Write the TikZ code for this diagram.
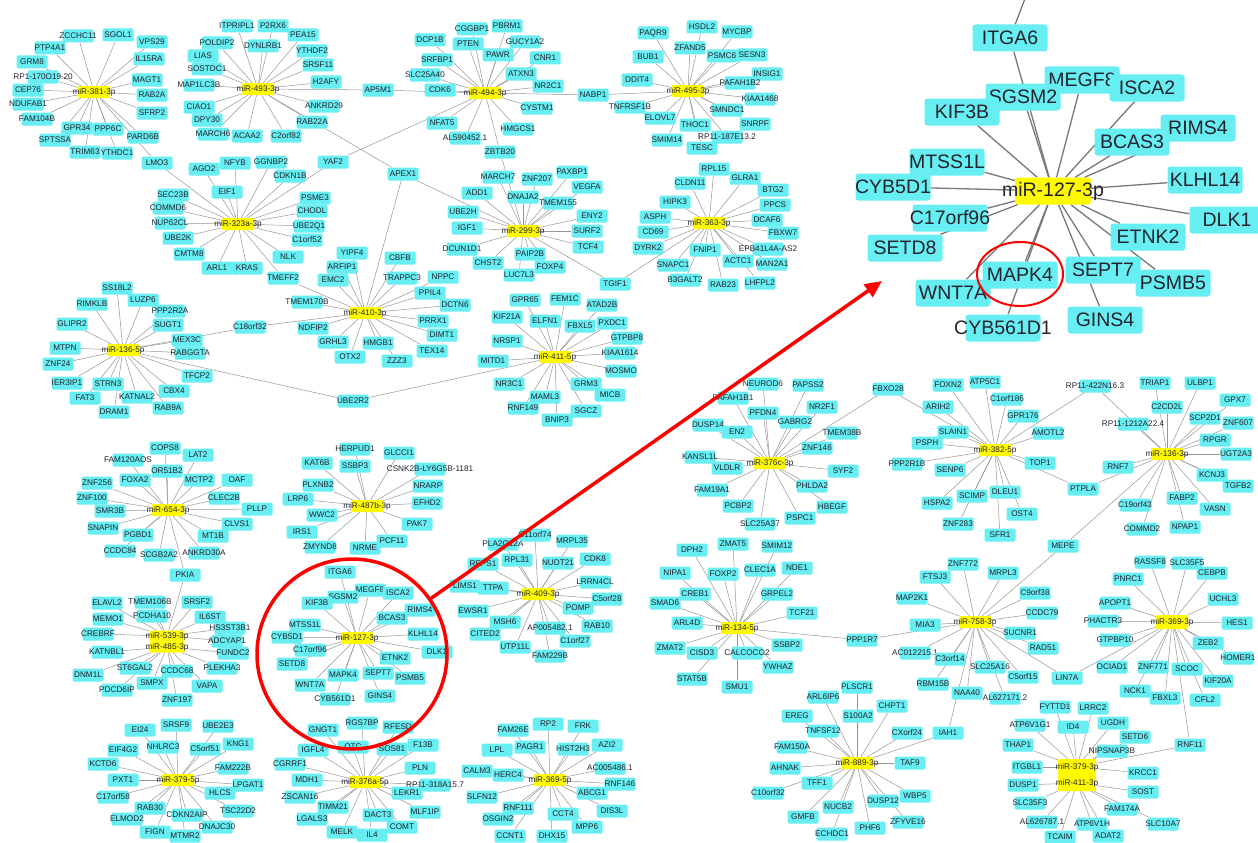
\documentclass[tikz,border=0pt]{standalone}
\usepackage{fontspec}
\setmainfont{Liberation Sans}
\usetikzlibrary{shapes.geometric, arrows.meta, backgrounds}
\definecolor{genecyan}{RGB}{102,238,242}
\definecolor{hubyellow}{RGB}{255,250,0}
\definecolor{linkgray}{RGB}{150,150,150}
\definecolor{labelink}{RGB}{35,35,45}

\newcommand\spokes[2]{%
  \foreach \gname/\gx/\gy [count=\gi] in {#2} {%
    \node[gene=\gname] (#1-\gi) at (\gx,\gy) {};
    \xdef\spokecount{\gi}%
  }%
  \begin{pgfonlayer}{background}
    \foreach \gi in {1,...,\spokecount} \draw[link] (#1) -- (#1-\gi);
  \end{pgfonlayer}}

\begin{document}
\begin{tikzpicture}[
  x=1pt, y=-1pt,
  genetext/.style={font=\fontsize{8.2}{9}\selectfont, text=labelink, inner sep=0pt},
  gene/.style={fill=genecyan, rounded corners=1.5pt, inner sep=0pt,
    minimum width=31pt, minimum height=13pt, label={[genetext]center:#1}},
  hub/.style={gene=#1, fill=hubyellow, rounded corners=1pt,
    minimum width=32pt, minimum height=12pt},
  bigtext/.style={font=\fontsize{19.5}{21}\selectfont, text=labelink, inner sep=0pt},
  bigene/.style={fill=genecyan, rounded corners=3pt, inner sep=0pt,
    minimum width=75pt, minimum height=27pt, label={[bigtext]center:#1}},
  bighub/.style={bigene=#1, fill=hubyellow, minimum width=76pt},
  link/.style={draw=linkgray, line width=0.5pt},
  biglink/.style={draw=linkgray!80!black, line width=1.3pt}
]
  \useasboundingbox (0,0) rectangle (1258,843);
  \begin{pgfonlayer}{background}
    \fill[white] (0,0) rectangle (1258,843);
  \end{pgfonlayer}

  % hubs
  \node[hub=miR-381-3p] (h381) at (94,92) {};
  \node[hub=miR-493-3p] (h493) at (258,89) {};
  \node[hub=miR-494-3p] (h494) at (485,93) {};
  \node[hub=miR-495-3p] (h495) at (688,91) {};
  \node[hub=miR-323a-3p] (h323) at (238,224) {};
  \node[hub=miR-299-3p] (h299) at (523,231) {};
  \node[hub=miR-363-3p] (h363) at (709,223) {};
  \node[hub=miR-410-3p] (h410) at (365,313) {};
  \node[hub=miR-411-5p] (h411a) at (555,357) {};
  \node[hub=miR-136-5p] (h136a) at (123,350) {};
  \node[hub=miR-654-3p] (h654) at (168,510) {};
  \node[hub=miR-539-3p, minimum width=35pt, minimum height=11pt] (h539) at (167,636) {};
  \node[hub=miR-485-3p, minimum width=35pt, minimum height=11pt] (h485) at (167,647) {};
  \node[hub=miR-379-5p] (h379a) at (178,780) {};
  \node[hub=miR-487b-3p] (h487) at (367,506) {};
  \node[hub=miR-127-3p] (h127) at (357,638) {};
  \node[hub=miR-376a-5p] (h376a) at (365,782) {};
  \node[hub=miR-409-3p] (h409) at (538,594) {};
  \node[hub=miR-369-5p] (h369a) at (550,780) {};
  \node[hub=miR-376c-3p] (h376c) at (770,463) {};
  \node[hub=miR-382-5p] (h382) at (995,450) {};
  \node[hub=miR-136-3p] (h136b) at (1167,454) {};
  \node[hub=miR-134-5p] (h134) at (737,628) {};
  \node[hub=miR-758-3p] (h758) at (975,622) {};
  \node[hub=miR-369-3p, minimum height=14pt] (h369b) at (1172,622) {};
  \node[hub=miR-379-3p, minimum width=38pt, minimum height=16pt] (h379b) at (1077,767) {};
  \node[hub=miR-411-3p, minimum width=38pt, minimum height=16pt] (h411b) at (1077,783) {};
  \node[hub=miR-889-3p] (h889) at (857,763) {};

  % genes shared by two hubs
  \node[gene=LMO3] (lmo3) at (157,163) {};
  \node[gene=AP5M1] (ap5m1) at (378,90) {};
  \node[gene=APEX1] (apex1) at (403,174) {};
  \node[gene=YAF2] (yaf2) at (333,162) {};
  \node[gene=NABP1] (nabp1) at (593,95) {};
  \node[gene=ZBTB20] (zbtb20) at (500,152) {};
  \node[gene=TGIF1] (tgif1) at (615,284) {};
  \node[gene=TMEFF2] (tmeff2) at (283,278) {};
  \node[gene=C18orf32] (c18orf32) at (250,327) {};
  \node[gene=UBE2R2] (ube2r2) at (353,401) {};
  \node[gene=PKIA] (pkia) at (185,575) {};
  \node[gene=FBXO28] (fbxo28) at (888,389) {};
  \node[gene=RP11-422N16.3] (rp422) at (1095,386) {};
  \node[gene=PTPLA] (ptpla) at (1083,489) {};
  \node[gene=MEPE] (mepe) at (1063,546) {};
  \node[gene=PPP1R7] (ppp1r7) at (862,640) {};
  \node[gene=LIN7A] (lin7a) at (1067,678) {};
  \node[gene=RNF11] (rnf11) at (1190,745) {};
  \node[gene=IAH1] (iah1) at (948,733) {};

  \begin{pgfonlayer}{background}
    \draw[link] (h381) -- (lmo3) -- (h323);
    \draw[link] (h493) -- (ap5m1) -- (h494);
    \draw[link] (h493) -- (apex1) -- (h299);
    \draw[link] (apex1) -- (h410);
    \draw[link] (h323) -- (yaf2) -- (h494);
    \draw[link] (h494) -- (nabp1) -- (h495);
    \draw[link] (h494) -- (zbtb20) -- (h299);
    \draw[link] (h299) -- (tgif1) -- (h363);
    \draw[link] (h323) -- (tmeff2) -- (h410);
    \draw[link] (h136a) -- (c18orf32) -- (h410);
    \draw[link] (h136a) -- (ube2r2) -- (h411a);
    \draw[link] (h654) -- (pkia) -- (h539);
    \draw[link] (h376c) -- (fbxo28) -- (h382);
    \draw[link] (h382) -- (rp422) -- (h136b);
    \draw[link] (h382) -- (ptpla) -- (h136b);
    \draw[link] (h136b) -- (mepe) -- (h758);
    \draw[link] (h134) -- (ppp1r7) -- (h758);
    \draw[link] (h758) -- (lin7a) -- (h369b);
    \draw[link] (h369b) -- (rnf11) -- (h379b);
    \draw[link] (h758) -- (iah1) -- (h889);
  \end{pgfonlayer}

  % targets of each hub
  \spokes{h381}{ZCCHC11/78/36, SGOL1/118/35, VPS29/152/42, PTP4A1/50/48,
    IL15RA/149/59, GRM8/32/62, RP1-170O19.20/43/77, MAGT1/147/80, CEP76/28/90,
    RAB2A/152/95, NDUFAB1/28/104, SFRP2/152/113, FAM104B/37/119, GPR34/77/128,
    PPP6C/108/129, PARD6B/143/137, SPTSSA/55/140, TRIM63/85/152, YTHDC1/117/153}
  \spokes{h493}{ITPRIPL1/237/26, P2RX6/273/26, PEA15/303/35, POLDIP2/217/43,
    DYNLRB1/263/46, YTHDF2/312/51, LIAS/203/56, SRSF11/318/65, SOSTDC1/207/69,
    H2AFY/326/82, MAP1LC3B/199/85, ANKRD29/324/106, CIAO1/199/107, DPY30/207/120,
    RAB22A/312/122, MARCH6/213/134, ACAA2/247/136, C2orf82/286/136}
  \spokes{h494}{CGGBP1/472/29, PBRM1/507/26, DCP1B/430/40, PTEN/468/44,
    GUCY1A2/525/42, PAWR/498/55, CNR1/545/58, SRFBP1/437/60, ATXN3/521/74,
    SLC25A40/425/75, NR2C1/548/86, CDK6/440/90, CYSTM1/537/108, NFAT5/442/123,
    HMGCS1/518/129, AL590452.1/465/138}
  \spokes{h495}{HSDL2/702/27, PAQR9/653/33, MYCBP/737/32, ZFAND5/690/48,
    PSMC6/722/56, SESN3/752/55, BUB1/648/57, INSIG1/767/74, PAFAH1B2/740/83,
    DDIT4/637/80, KIAA1468/760/99, TNFRSF1B/630/107, SMNDC1/727/110,
    ELOVL7/660/118, THOC1/695/125, SNRPF/755/124, SMIM14/667/140,
    RP11-187E13.2/727/137, TESC/702/148}
  \spokes{h299}{MARCH7/498/177, ZNF207/537/179, PAXBP1/572/172, VEGFA/587/187,
    ADD1/477/193, DNAJA2/523/197, TMEM155/558/203, UBE2H/463/212, ENY2/592/216,
    IGF1/467/228, SURF2/587/231, TCF4/588/247, DCUN1D1/462/249, PAIP2B/530/254,
    CHST2/488/263, FOXP4/550/267, LUC7L3/519/275}
  \spokes{h363}{RPL15/714/169, CLDN11/690/183, GLRA1/745/178, BTG2/773/190,
    HIPK3/675/202, PPCS/775/205, ASPH/655/217, DCAF6/767/220, CD69/653/232,
    FBXW7/783/233, DYRK2/648/248, FNIP1/705/250, EPB41L4A-AS2/768/249,
    ACTC1/738/261, MAN2A1/772/264, SNAPC1/673/265, B3GALT2/685/280,
    RAB23/723/285, LHFPL2/760/283}
  \spokes{h323}{AGO2/204/169, NFYB/235/163, GGNBP2/271/162, CDKN1B/290/176,
    EIF1/227/192, SEC23B/173/195, PSME3/315/198, COMMD6/168/208, CHODL/312/211,
    NUP62CL/170/223, UBE2Q1/309/226, UBE2K/178/238, C1orf52/307/240,
    CMTM8/189/254, NLK/288/257, ARL1/217/268, KRAS/247/268}
  \spokes{h410}{YIPF4/352/253, CBFB/400/258, ARFIP1/342/267, EMC2/333/280,
    TRAPPC3/402/278, NPPC/443/277, PPIL4/430/293, TMEM170B/307/302,
    DCTN6/455/305, NDFIP2/313/328, PRRX1/433/321, GRHL3/333/342, DIMT1/442/335,
    HMGB1/378/343, TEX14/432/351, OTX2/350/357, ZZZ3/397/361}
  \spokes{h411a}{GPR65/525/300, FEM1C/565/299, ATAD2B/602/305, KIF21A/507/317,
    ELFN1/545/321, FBXL5/580/326, PXDC1/612/323, NRSP1/507/341, GTPBP8/627/338,
    KIAA1614/620/353, MITD1/493/361, MOSMO/621/371, NR3C1/509/384, GRM3/586/384,
    MICB/610/395, MAML3/545/397, RNF149/523/408, SGCZ/586/411, BNIP3/557/420}
  \spokes{h136a}{SS18L2/117/288, RIMKLB/92/304, LUZP6/143/300, PPP2R2A/170/311,
    GLIPR2/72/324, SUGT1/168/325, MEX3C/187/340, MTPN/65/348, RABGGTA/190/353,
    ZNF24/58/364, TFCP2/197/376, IER3IP1/67/383, STRN3/108/384, CBX4/174/391,
    FAT3/85/398, KATNAL2/137/397, RAB9A/168/408, DRAM1/114/412}
  \spokes{h654}{COPS8/165/448, LAT2/198/455, FAM120AOS/128/460, OR51B2/167/471,
    FOXA2/135/480, MCTP2/199/480, OAF/237/480, ZNF256/97/483, ZNF100/92/498,
    CLEC2B/224/498, SMR3B/110/511, PLLP/257/509, SNAPIN/103/528, CLVS1/237/524,
    PGBD1/138/535, MT1B/213/536, CCDC84/120/551, SCGB2A2/159/555,
    ANKRD30A/204/553}
  \spokes{h539}{ELAVL2/107/603, TMEM106B/150/602, SRSF2/197/602,
    PCDHA10/152/616, MEMO1/108/619, IL6ST/210/617, HS3ST3B1/230/628,
    CREBRF/98/634, ADCYAP1/227/641}
  \spokes{h485}{KATNBL1/107/652, FUNDC2/233/653, ST6GAL2/135/668, DNM1L/88/675,
    CCDC68/177/671, PLEKHA3/222/668, SMPX/152/683, PDCD6IP/117/690,
    VAPA/207/686, ZNF197/177/700}
  \spokes{h379a}{EI24/140/730, SRSF9/176/725, UBE2E3/218/726, NHLRC3/163/747,
    C5orf51/205/749, KNG1/238/744, EIF4G2/123/750, KCTD6/103/764,
    FAM222B/233/768, PXT1/123/780, LPGAT1/248/785, C17orf58/113/797,
    HLCS/220/793, RAB30/150/808, TSC22D2/238/811, CDKN2AIP/187/815,
    ELMOD2/127/819, DNAJC30/217/827, FIGN/155/832, MTMR2/185/836}
  \spokes{h487}{HERPUD1/355/449, GLCCI1/399/453, KAT6B/317/463, SSBP3/355/466,
    CSNK2B-LY6G5B-1181/430/469, PLXNB2/318/485, NRARP/428/486, LRP6/298/499,
    EFHD2/427/503, WWC2/322/515, PAK7/417/524, IRS1/302/532, PCF11/392/541,
    ZMYND8/320/547, NRME/365/548}
  \spokes{h127}{ITGA6/340/572, MEGF8/370/590, SGSM2/343/597, ISCA2/398/593,
    KIF3B/317/603, RIMS4/420/610, BCAS3/392/618, MTSS1L/305/625,
    KLHL14/423/634, CYB5D1/287/637, C17orf96/310/650, DLK1/437/652,
    ETNK2/395/658, SETD8/292/664, MAPK4/343/675, SEPT7/378/673, PSMB5/410/678,
    WNT7A/310/685, GINS4/380/696, CYB561D1/335/699}
  \spokes{h376a}{GNGT1/323/730, RGS7BP/362/723, RFESD/398/727, IGFL4/313/750,
    OTC/353/747, SOS81/392/749, F13B/423/745, CGRRF1/290/764, PLN/420/768,
    MDH1/307/780, RP11-318A15.7/435/785, ZSCAN16/300/797, LEKR1/407/793,
    TIMM21/333/807, DACT3/378/815, MLF1IP/425/812, LGALS3/312/819,
    COMT/402/827, MELK/342/832, IL4/372/835}
  \spokes{h409}{PLA2G12A/503/544, C11orf74/535/535, MRPL35/572/541,
    REPS1/483/564, RPL31/517/560, NUDT21/558/563, CDK8/595/559,
    LRRN4CL/595/582, LIMS1/465/586, TTPA/493/588, C5orf28/607/599,
    EWSR1/473/611, POMP/578/608, MSH6/505/622, RAB10/597/626,
    AP005482.1/550/628, CITED2/485/634, C1orf27/575/641, UTP11L/515/647,
    FAM229B/550/656}
  \spokes{h369a}{FAM26E/513/730, RP2/548/724, FRK/583/726, PAGR1/530/747,
    HIST2H3/573/749, AZI2/607/745, LPL/497/750, AC005486.1/610/768,
    CALM3/477/771, HERC4/508/775, RNF146/620/784, ABCG1/592/793,
    SLFN12/482/797, DIS3L/612/811, RNF111/518/808, CCT4/563/814,
    OSGIN2/498/819, MPP6/587/827, CCNT1/510/836, DHX15/552/836}
  \spokes{h376c}{NEUROD6/763/384, PAPSS2/808/385, PAFAH1B1/733/398,
    NR2F1/822/407, PFDN4/763/413, GABRG2/795/422, DUSP14/708/425, EN2/737/432,
    TMEM38B/842/433, ZNF146/817/448, KANSL1L/700/457, VLDLR/727/468,
    SYF2/843/471, PHLDA2/812/486, FAM19A1/712/490, HBEGF/832/507,
    PCBP2/738/506, PSPC1/800/518, SLC25A37/760/524}
  \spokes{h382}{FOXN2/948/385, ATP5C1/985/382, C1orf186/1007/399, ARIH2/938/407,
    GPR176/1023/416, SLAIN1/953/432, AMOTL2/1048/433, PSPH/927/443,
    PPP2R1B/907/464, SENP6/950/470, TOP1/1040/463, HSPA2/937/503,
    SCIMP/972/496, DLEU1/1005/492, OST4/1022/514, ZNF283/958/524,
    SFR1/1000/535}
  \spokes{h136b}{TRIAP1/1155/383, ULBP1/1200/383, GPX7/1235/400,
    C2CD2L/1167/407, SCP2D1/1205/418, ZNF607/1238/423,
    RP11-1212A22.4/1133/424, RPGR/1215/440, UGT2A3/1236/454, RNF7/1118/467,
    KCNJ3/1212/475, TGFB2/1238/486, FABP2/1182/498, C19orf43/1135/505,
    VASN/1215/509, COMMD2/1142/529, NPAP1/1185/527}
  \spokes{h134}{DPH2/692/550, ZMAT5/733/544, SMIM12/777/546, NIPA1/675/573,
    FOXP2/723/574, CLEC1A/760/570, NDE1/797/568, CREB1/695/594,
    GRPEL2/777/594, SMAD6/665/603, TCF21/802/613, ARL4D/687/623,
    ZMAT2/670/648, CISD3/702/653, CALCOCO2/747/653, SSBP2/787/645,
    YWHAZ/778/667, STAT5B/692/679, SMU1/737/687}
  \spokes{h758}{ZNF772/963/564, MRPL3/1003/573, FTSJ3/935/577,
    C9orf38/1035/593, MAP2K1/912/598, CCDC79/1042/613, MIA3/925/625,
    SUCNR1/1020/633, RAD51/1043/648, AC012215.1/915/653, C3orf14/950/659,
    SLC25A16/990/667, C5orf15/1023/677, RBM15B/933/684, NAA40/967/693,
    AL627171.2/1005/698}
  \spokes{h369b}{RASSF8/1150/562, SLC35F5/1187/563, CEBPB/1212/573,
    PNRC1/1128/579, UCHL3/1223/599, APOPT1/1115/603, PHACTR3/1103/621,
    HES1/1237/623, GTPBP10/1115/640, ZEB2/1208/643, HOMER1/1238/658,
    OCIAD1/1112/667, ZNF771/1153/667, SCOC/1187/669, KIF20A/1218/681,
    NCK1/1135/691, FBXL3/1165/698, CFL2/1205/700}
  \spokes{h379b}{FYTTD1/1055/707, LRRC2/1093/708, ATP6V1G1/1030/725,
    ID4/1073/727, UGDH/1113/723, SETD6/1135/737, THAP1/1018/745,
    NIPSNAP3B/1112/751, ITGBL1/1027/767, KRCC1/1143/773}
  \spokes{h411b}{DUSP1/1023/785, SOST/1143/792, SLC35F3/1030/803,
    FAM174A/1122/809, AL626787.1/1042/822, ATP6V1H/1092/824,
    SLC10A7/1163/824, TCAIM/1060/837, ADAT2/1108/836}
  \spokes{h889}{PLSCR1/857/687, ARL6IP6/823/697, CHPT1/892/706, EREG/797/716,
    S100A2/858/716, TNFSF12/823/731, CXorf24/907/733, FAM150A/792/747,
    TAF9/910/763, AHNAK/785/768, TFF1/817/783, C10orf32/768/793,
    WBP5/915/796, DUSP12/883/801, NUCB2/838/807, GMFB/803/817,
    ZFYVE16/908/822, PHF6/870/828, ECHDC1/832/834}

  % enlarged miR-127-3p network
  \node[bighub=miR-127-3p] (hbig) at (1053,191) {};
  \foreach \gname/\gx/\gy [count=\gi] in {ITGA6/1010/38, MEGF8/1082/80,
    ISCA2/1147/88, SGSM2/1023/97, KIF3B/962/112, RIMS4/1198/128,
    BCAS3/1132/142, MTSS1L/947/162, KLHL14/1205/180, CYB5D1/893/187,
    C17orf96/950/218, DLK1/1227/220, ETNK2/1148/237, SETD8/905/248,
    MAPK4/1020/275, SEPT7/1103/270, PSMB5/1173/283, WNT7A/953/293,
    GINS4/1105/320, CYB561D1/1003/328}
    \node[bigene=\gname] (hbig-\gi) at (\gx,\gy) {};
  \coordinate (topcut) at (1026,-4);
  \begin{pgfonlayer}{background}
    \foreach \gi in {1,...,20} \draw[biglink] (hbig) -- (hbig-\gi);
    \draw[biglink] (hbig-1) -- (topcut);
  \end{pgfonlayer}

  % highlight marks
  \node[draw=red, line width=3.5pt, circle, minimum size=190pt, inner sep=0pt]
    (zoomring) at (352,654) {};
  \coordinate (arrowtip) at (882,281);
  \draw[red, line width=3.5pt, -{Triangle[length=17pt, width=15pt]}]
    (zoomring) -- (arrowtip);
  \node[draw=red, line width=2pt, ellipse, minimum width=86pt,
    minimum height=64pt, inner sep=0pt] (mapkring) at (1020,274) {};
\end{tikzpicture}
\end{document}
